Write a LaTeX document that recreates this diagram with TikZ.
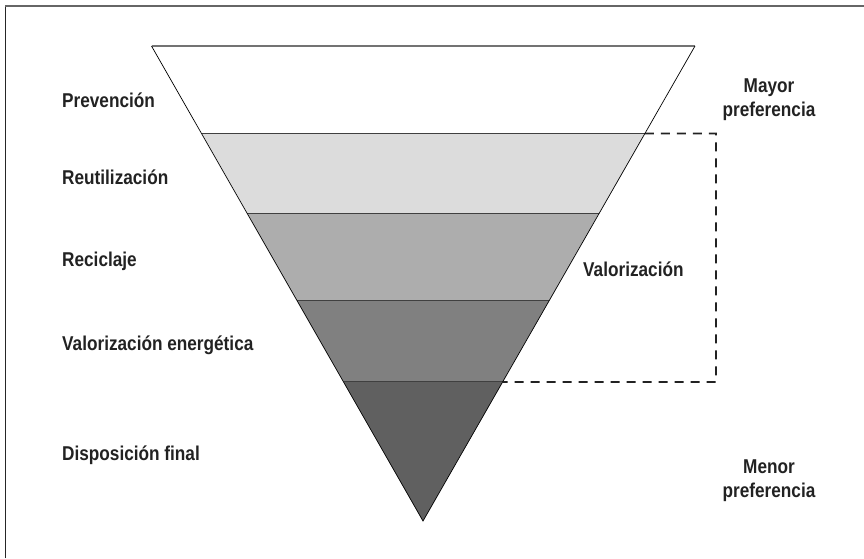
\documentclass[tikz,border=0pt]{standalone}
\usepackage{fontspec}
\newfontfamily\levelfont{Liberation Sans Bold}[FakeStretch=0.86]
\usetikzlibrary{calc}
\definecolor{bandB}{HTML}{DCDCDC}
\definecolor{bandC}{HTML}{ADADAD}
\definecolor{bandD}{HTML}{808080}
\definecolor{bandE}{HTML}{606060}
\definecolor{inkdark}{HTML}{222222}
\tikzset{
	levelname/.style={anchor=west,inner sep=0pt,text=inkdark,font=\levelfont\fontsize{20}{24}\selectfont},
	sidename/.style={align=center,inner sep=0pt,text=inkdark,font=\levelfont\fontsize{20}{24}\selectfont},
	bandline/.style={draw=black!75,line width=0.9pt},
	valbox/.style={draw=inkdark,line width=1.8pt,dash pattern=on 9pt off 7pt}
}
\begin{document}
\begin{tikzpicture}[x=1pt,y=-1pt]
			\useasboundingbox (0,0) rectangle (864,558);
			%Frame (only left and top visible)
			\draw[black!60,line width=1.2pt] (5.5,558) -- (5.5,6) -- (864,6);
			\draw[black!85,line width=1.4pt] (5.5,558) -- (5.5,7);
			%Corners of the inverted pyramid
			\coordinate (topL) at (151.5,46);
			\coordinate (topR) at (695,46);
			\coordinate (tip) at (423,521);
			%Band borders on the left and right edge
			\foreach \n/\t in {1/0.1842,2/0.3526,3/0.5362,4/0.7072} {
				\coordinate (l\n) at ($(topL)!\t!(tip)$);
				\coordinate (r\n) at ($(topR)!\t!(tip)$);
			}
			%Fill the bands
			\fill[white] (topL) -- (topR) -- (r1) -- (l1) -- cycle;
			\fill[bandB] (l1) -- (r1) -- (r2) -- (l2) -- cycle;
			\fill[bandC] (l2) -- (r2) -- (r3) -- (l3) -- cycle;
			\fill[bandD] (l3) -- (r3) -- (r4) -- (l4) -- cycle;
			\fill[bandE] (l4) -- (r4) -- (tip) -- cycle;
			%Lines between the bands
			\draw[black!55,line width=1.3pt] (topL) -- (topR);
			\foreach \n in {1,...,4} {
				\draw[bandline] (l\n) -- (r\n);
			}
			%Outer hull
			\draw[line width=0.7pt] (topR) -- (tip) -- (topL);
			%Dashed bracket for the recovery levels
			\coordinate (valTop) at (716,133.5);
			\coordinate (valBot) at (716,381.9);
			\draw[valbox] (r1) -- (valTop) -- (valBot) -- (r4);
			%Level names
			\node[levelname] (prev) at (62,100) {Prevención};
			\node[levelname] (reut) at (62,177) {Reutilización};
			\node[levelname] (recic) at (62,261.5) {Reciclaje};
			\node[levelname] (valen) at (62,345) {Valorización energética};
			\node[levelname] (disp) at (62,455.5) {Disposición final};
			\node[levelname] (valor) at (583,269) {Valorización};
			%Preference side
			\node[sidename] (mayor) at (769,100) {Mayor\\preferencia};
			\node[sidename] (menor) at (769,480.5) {Menor\\preferencia};
\end{tikzpicture}
\end{document}
